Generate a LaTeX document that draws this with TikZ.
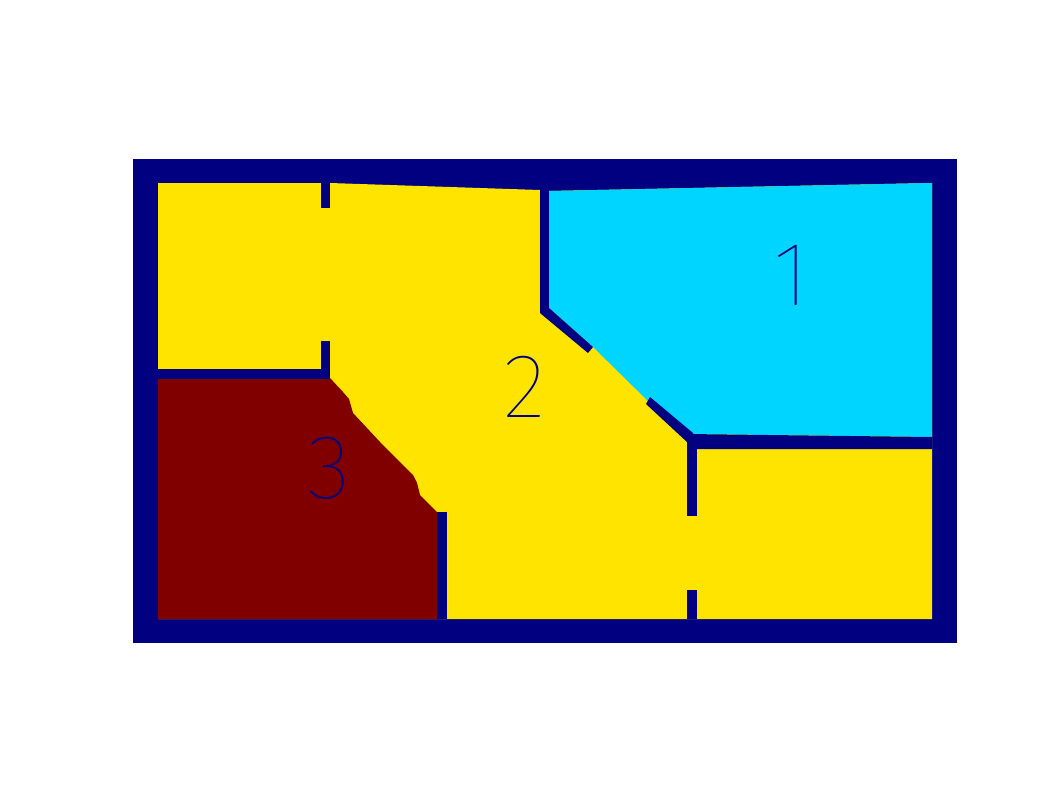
\documentclass[tikz,border=0pt]{standalone}
\usepackage{fontspec}
\newfontfamily\digitfont{Fira Sans}[UprightFont=* Thin]
\definecolor{wallblue}{RGB}{0,0,128}
\definecolor{roomyellow}{RGB}{255,228,0}
\definecolor{roomcyan}{RGB}{0,213,255}
\definecolor{roommaroon}{RGB}{128,0,0}
\tikzset{
  wall/.style={fill=wallblue, draw=none},
  label/.style={text=wallblue, inner sep=0pt, font=\digitfont\fontsize{91}{91}\selectfont}
}
\begin{document}
\begin{tikzpicture}[x=1pt,y=-1pt]
\useasboundingbox (0,0) rectangle (1062,796);
% outer frame
\fill[wallblue] (133,159) rectangle (957,643);
% interior (yellow)
\fill[roomyellow] (158,183) -- (330,183) -- (540,190) -- (549,191) -- (932,183) -- (932,619) -- (158,619) -- cycle;
% room 1 (cyan)
\fill[roomcyan] (549,191) -- (932,183) -- (932,437) -- (693,434) -- (648,401) -- (593,347) -- (549,308) -- cycle;
% room 3 (maroon)
\fill[roommaroon] (158,378) -- (330,378) -- (343,392) -- (349,399) -- (353,413) -- (380,442) -- (413,475) -- (417,483) -- (420,495) -- (437,512) -- (437,619) -- (158,619) -- cycle;
% walls
\fill[wall] (321,183) rectangle (330,208);
\fill[wall] (321,341) rectangle (330,379);
\fill[wall] (158,369) rectangle (330,379);
\fill[wall] (540,183) rectangle (549,310);
\fill[wall] (540,309) -- (549,308) -- (593,347) -- (588,353) -- (540,313) -- cycle;
\fill[wall] (650,397) -- (693,433) -- (697,449) -- (687,449) -- (687,442) -- (646,404) -- cycle;
\fill[wall] (687,434) -- (932,437) -- (932,449) -- (687,449) -- cycle;
\fill[wall] (687,434) rectangle (697,516);
\fill[wall] (687,590) rectangle (697,619);
\fill[wall] (437,512) rectangle (447,619);
% labels
\node[label] (l1) at (791,275) {1};
\node[label] (l2) at (525,387) {2};
\node[label] (l3) at (329,468) {3};
\end{tikzpicture}
\end{document}
